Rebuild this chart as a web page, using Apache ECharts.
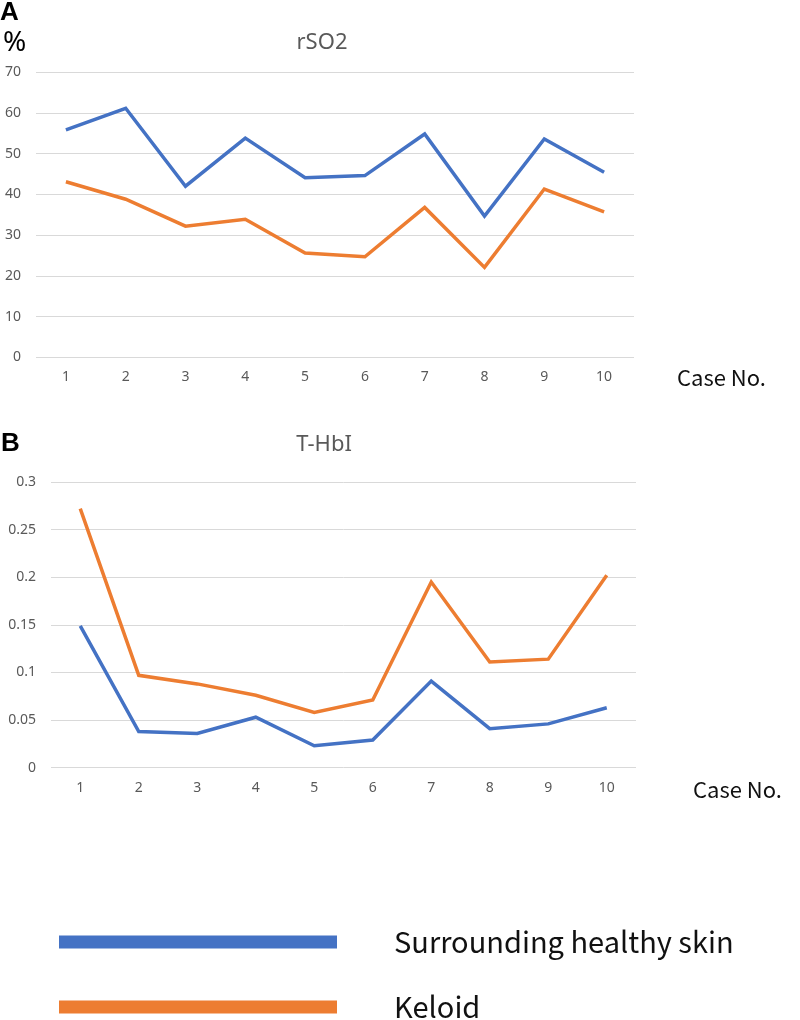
<!DOCTYPE html>
<html>
<head>
<meta charset="utf-8">
<script src="https://cdn.jsdelivr.net/npm/echarts@6/dist/echarts.min.js"></script>
<style>
  html, body { margin: 0; padding: 0; background: #fff; }
  #main { width: 800px; height: 1020px; }
</style>
</head>
<body>
<div id="main"></div>
<script>
// case numbers on the x axis
const cases = ['1', '2', '3', '4', '5', '6', '7', '8', '9', '10'];

// A: rSO2 (%)
const rso2Healthy = [55.8, 61.1, 42.0, 53.8, 44.1, 44.6, 54.8, 34.7, 53.6, 45.4];
const rso2Keloid = [43.1, 38.8, 32.2, 33.9, 25.6, 24.7, 36.8, 22.1, 41.3, 35.7];

// B: T-HbI
const thbiHealthy = [0.149, 0.038, 0.036, 0.053, 0.023, 0.029, 0.091, 0.041, 0.046, 0.063];
const thbiKeloid = [0.272, 0.097, 0.088, 0.076, 0.058, 0.071, 0.195, 0.111, 0.114, 0.202];

const seriesNames = ['Surrounding healthy skin', 'Keloid'];
const colors = ['#4472C4', '#ED7D31'];

let myChart = echarts.init(document.getElementById('main'));

const gray = '#595959';
const font = 'Noto Sans';

function xAxisFor(gridIndex) {
  return {
    type: 'category',
    gridIndex: gridIndex,
    data: cases,
    boundaryGap: true,
    axisLine: { show: false },
    axisTick: { show: false },
    axisLabel: { color: gray, fontSize: 14, fontFamily: font, margin: 13 }
  };
}

function lineSeries(name, data, idx, color) {
  return {
    name: name,
    type: 'line',
    xAxisIndex: idx,
    yAxisIndex: idx,
    data: data,
    symbol: 'none',
    color: color,
    lineStyle: { width: 3.5, color: color, join: 'miter' },
    emphasis: { disabled: true }
  };
}

// one legend per row, so nothing wraps
function legendRow(name, top) {
  return {
    orient: 'vertical',
    left: 54,
    top: top,
    icon: 'rect',
    itemWidth: 278,
    itemHeight: 13,
    selectedMode: false,
    data: [name],
    textStyle: {
      color: '#111',
      fontSize: 29,
      fontFamily: 'Noto Sans CJK JP',
      lineHeight: 30,
      padding: [0, 0, 0, 52]
    }
  };
}

myChart.setOption({
  animation: false,
  backgroundColor: '#fff',
  grid: [
    { left: 36, right: 166, top: 72, height: 285.5 },
    { left: 51, right: 164, top: 482, height: 285.7 }
  ],
  xAxis: [xAxisFor(0), xAxisFor(1)],
  yAxis: [
    {
      type: 'value', gridIndex: 0, min: 0, max: 70, interval: 10,
      axisLine: { show: false }, axisTick: { show: false },
      axisLabel: { color: gray, fontSize: 14, fontFamily: font, margin: 15 },
      splitLine: { lineStyle: { color: '#d9d9d9', width: 1 } }
    },
    {
      type: 'value', gridIndex: 1, min: 0, max: 0.3, interval: 0.05,
      axisLine: { show: false }, axisTick: { show: false },
      axisLabel: { color: gray, fontSize: 14, fontFamily: font, margin: 15 },
      splitLine: { lineStyle: { color: '#d9d9d9', width: 1 } }
    }
  ],
  legend: [legendRow(seriesNames[0], 922), legendRow(seriesNames[1], 987)],
  graphic: [
    { type: 'text', left: 0, top: 0, style: { text: 'A', font: 'bold 26px Liberation Sans', fill: '#000' } },
    { type: 'text', left: 3, top: 29, style: { text: '%', font: '28px Noto Sans', fill: '#000' } },
    { type: 'text', left: 1, top: 431, style: { text: 'B', font: 'bold 26px Liberation Sans', fill: '#000' } },
    { type: 'text', x: 322, y: 43, style: { text: 'rSO2', font: '22px Noto Sans', fill: gray, align: 'center', verticalAlign: 'middle' } },
    { type: 'text', x: 324, y: 445, style: { text: 'T-HbI', font: '22px Noto Sans', fill: gray, align: 'center', verticalAlign: 'middle' } },
    { type: 'text', x: 677, y: 378, style: { text: 'Case No.', font: '22px Noto Sans CJK JP', fill: '#111', verticalAlign: 'middle' } },
    { type: 'text', x: 693, y: 790, style: { text: 'Case No.', font: '22px Noto Sans CJK JP', fill: '#111', verticalAlign: 'middle' } }
  ],
  series: [
    lineSeries(seriesNames[0], rso2Healthy, 0, colors[0]),
    lineSeries(seriesNames[1], rso2Keloid, 0, colors[1]),
    lineSeries(seriesNames[0], thbiHealthy, 1, colors[0]),
    lineSeries(seriesNames[1], thbiKeloid, 1, colors[1])
  ]
});
</script>
</body>
</html>
